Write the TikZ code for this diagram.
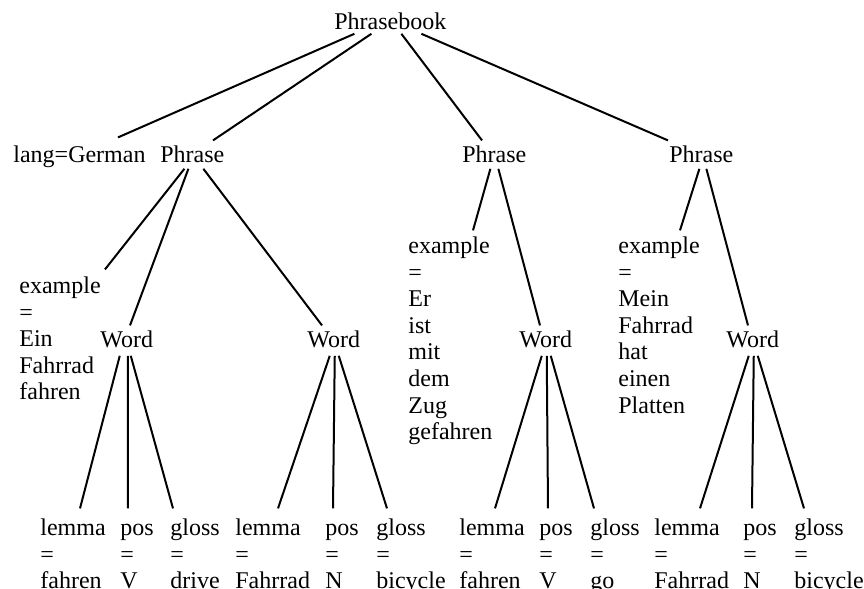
\documentclass[tikz,border=0pt]{standalone}
\usepackage{fontspec}
\setmainfont{Liberation Serif}
\usepackage{tikz}
\usetikzlibrary{positioning}

\begin{document}
\begin{tikzpicture}[x=0.5pt,y=-0.5pt,
  lbl/.style={anchor=north west,inner sep=0pt,align=left,font=\fontsize{12pt}{13.3pt}\selectfont}]
\useasboundingbox (0,0) rectangle (864,589);
\node[lbl] (pb) at (334,10.4) {\strut Phrasebook};
\node[lbl] (lang) at (13,143.4) {\strut lang=German};
\node[lbl] (ph1) at (160,143.4) {\strut Phrase};
\node[lbl] (ph2) at (462,143.4) {\strut Phrase};
\node[lbl] (ph3) at (669,143.4) {\strut Phrase};
\node[lbl] (ex1) at (19,274.4) {\strut example\\=\\Ein\\Fahrrad\\fahren};
\node[lbl] (ex2) at (408,234.4) {\strut example\\=\\Er\\ist\\mit\\dem\\Zug\\gefahren};
\node[lbl] (ex3) at (618,234.4) {\strut example\\=\\Mein\\Fahrrad\\hat\\einen\\Platten};
\node[lbl] (w1) at (100,328.4) {\strut Word};
\node[lbl] (w2) at (307,328.4) {\strut Word};
\node[lbl] (w3) at (519,328.4) {\strut Word};
\node[lbl] (w4) at (726,328.4) {\strut Word};
\node[lbl] (lem1) at (40,516.4) {\strut lemma\\=\\fahren};
\node[lbl] (pos1) at (120,516.4) {\strut pos\\=\\V};
\node[lbl] (gl1) at (170,516.4) {\strut gloss\\=\\drive};
\node[lbl] (lem2) at (235,516.4) {\strut lemma\\=\\Fahrrad};
\node[lbl] (pos2) at (325,516.4) {\strut pos\\=\\N};
\node[lbl] (gl2) at (376,516.4) {\strut gloss\\=\\bicycle};
\node[lbl] (lem3) at (459,516.4) {\strut lemma\\=\\fahren};
\node[lbl] (pos3) at (539,516.4) {\strut pos\\=\\V};
\node[lbl] (gl3) at (590,516.4) {\strut gloss\\=\\go};
\node[lbl] (lem4) at (654,516.4) {\strut lemma\\=\\Fahrrad};
\node[lbl] (pos4) at (743,516.4) {\strut pos\\=\\N};
\node[lbl] (gl4) at (794,516.4) {\strut gloss\\=\\bicycle};
\path[draw,line width=1pt]
([xshift=-18pt,yshift=2pt]pb.south) edge ([xshift=52.5pt,yshift=3pt]lang.north west)
([xshift=-9.5pt,yshift=2pt]pb.south) edge ([xshift=26.5pt,yshift=1.5pt]ph1.north west)
([xshift=5.5pt,yshift=2pt]pb.south) edge ([xshift=10pt,yshift=1.5pt]ph2.north west)
([xshift=15.5pt,yshift=2pt]pb.south) edge ([xshift=-0.5pt,yshift=1.5pt]ph3.north west)
([xshift=-4pt,yshift=1pt]ph1.south) edge ([xshift=43pt,yshift=2.5pt]ex1.north west)
([xshift=-2pt,yshift=1pt]ph1.south) edge ([xshift=15pt,yshift=1.5pt]w1.north west)
([xshift=5.5pt,yshift=1pt]ph1.south) edge ([xshift=7.5pt,yshift=1.5pt]w2.north west)
([xshift=-2pt,yshift=1pt]ph2.south) edge ([xshift=32.5pt,yshift=2pt]ex2.north west)
([xshift=2pt,yshift=1pt]ph2.south) edge ([xshift=10.5pt,yshift=1.5pt]w3.north west)
([xshift=-1pt,yshift=1pt]ph3.south) edge ([xshift=31pt,yshift=2pt]ex3.north west)
([xshift=2.5pt,yshift=1pt]ph3.south) edge ([xshift=11pt,yshift=1.5pt]w4.north west)
([xshift=-3.5pt]w1.south) edge ([xshift=20pt,yshift=4pt]lem1.north west)
([xshift=0.5pt]w1.south) edge ([xshift=4pt,yshift=4pt]pos1.north west)
([xshift=2pt]w1.south) edge ([xshift=1.5pt,yshift=4pt]gl1.north west)
([xshift=-2pt]w2.south) edge ([xshift=21.5pt,yshift=4pt]lem2.north west)
([xshift=0.5pt]w2.south) edge ([xshift=4pt,yshift=4pt]pos2.north west)
([xshift=2.5pt]w2.south) edge ([xshift=5.5pt,yshift=4pt]gl2.north west)
([xshift=-2pt]w3.south) edge ([xshift=18pt,yshift=4pt]lem3.north west)
([xshift=0.5pt]w3.south) edge ([xshift=4.5pt,yshift=4pt]pos3.north west)
([xshift=2.5pt]w3.south) edge ([xshift=2pt,yshift=4pt]gl3.north west)
([xshift=-2pt]w4.south) edge ([xshift=23pt,yshift=4pt]lem4.north west)
([xshift=0.5pt]w4.south) edge ([xshift=4.5pt,yshift=4pt]pos4.north west)
([xshift=2.5pt]w4.south) edge ([xshift=5pt,yshift=4pt]gl4.north west);
\end{tikzpicture}
\end{document}
